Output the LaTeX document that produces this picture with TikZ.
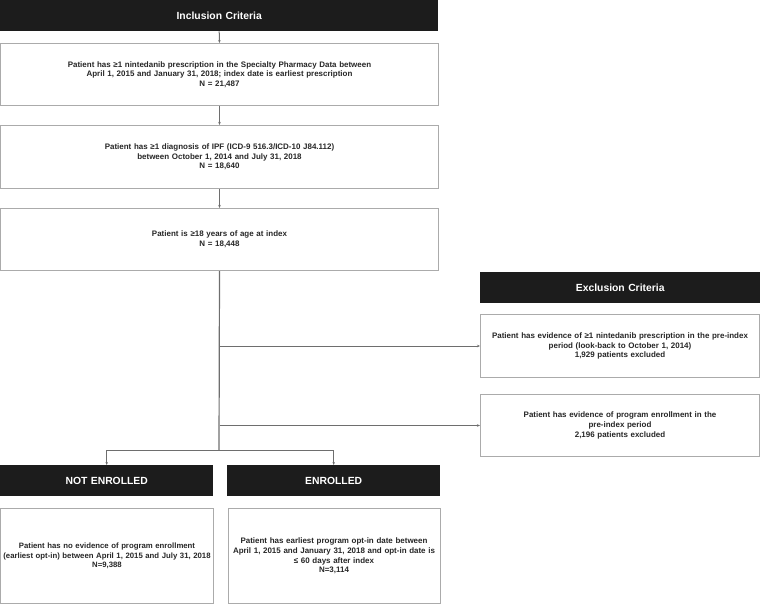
\documentclass[tikz,border=0pt]{standalone}
\usepackage{fontspec}
\setmainfont{Liberation Sans}
\usetikzlibrary{arrows.meta}
\definecolor{boxgray}{HTML}{ABABAB}
\definecolor{linegray}{HTML}{6E6E6E}
\definecolor{headblack}{HTML}{1C1C1C}
\definecolor{textgray}{HTML}{262626}
\tikzset{
    headbox/.style={fill=headblack, text=white, anchor=north west, inner sep=0pt,
        align=center, font=\bfseries\fontsize{10.4}{12}\selectfont},
    stepbox/.style={draw=boxgray, line width=1bp, anchor=north west, inner sep=0pt,
        align=center, text=textgray, font=\bfseries\fontsize{8}{9.6}\selectfont},
    conn/.style={draw=linegray, line width=1bp, -{Stealth[length=3bp,width=2.5bp]}},
    trunk/.style={draw=linegray, line width=1.2bp}
}
\begin{document}
\begin{tikzpicture}[x=1bp, y=-1bp]
        \useasboundingbox (0,0) rectangle (760,605);
        \node[headbox, text width=438bp, minimum height=31bp] (inclhead) at (0,0) {Inclusion Criteria};
        \node[stepbox, text width=438bp, minimum height=62bp] (elig1) at (0,43)
        {Patient has ≥1 nintedanib prescription in the Specialty Pharmacy Data between\\
        April 1, 2015 and January 31, 2018; index date is earliest prescription\\ N = 21,487};
        \node[stepbox, text width=438bp, minimum height=63bp] (elig2) at (0,125)
        {Patient has ≥1 diagnosis of IPF (ICD-9 516.3/ICD-10 J84.112)\\
        between October 1, 2014 and July 31, 2018\\ N = 18,640};
        \node[stepbox, text width=438bp, minimum height=62bp] (elig3) at (0,208)
        {Patient is ≥18 years of age at index\\ N = 18,448};
        \node[headbox, text width=280bp, minimum height=31bp] (exclhead) at (480,272) {Exclusion Criteria};
        \node[stepbox, text width=279bp, minimum height=63bp] (excl1) at (480,314)
        {Patient has evidence of ≥1 nintedanib prescription in the pre-index\\
        period (look-back to October 1, 2014)\\ 1,929 patients excluded};
        \node[stepbox, text width=279bp, minimum height=62bp] (excl2) at (480,394)
        {Patient has evidence of program enrollment in the\\ pre-index period\\
        2,196 patients excluded};
        \node[headbox, text width=213bp, minimum height=31bp] (nothead) at (0,465) {NOT ENROLLED};
        \node[headbox, text width=213bp, minimum height=31bp] (enrhead) at (227,465) {ENROLLED};
        \node[stepbox, text width=212bp, minimum height=95bp, font=\bfseries\fontsize{7.8}{9.6}\selectfont]
        (notbox) at (0.5,508)
        {Patient has no evidence of program enrollment\\
        \makebox[212bp][c]{(earliest opt-in) between April 1, 2015 and July 31, 2018}\\ N=9,388};
        \node[stepbox, text width=212bp, minimum height=95bp] (enrbox) at (227.5,508)
        {Patient has earliest program opt-in date between\\
        April 1, 2015 and January 31, 2018 and opt-in date is\\ ≤ 60 days after index\\ N=3,114};
        \coordinate (fork) at (219,450);
        \draw[conn] (inclhead.south) -- (elig1.north);
        \draw[conn] (elig1.south) -- (elig2.north);
        \draw[conn] (elig2.south) -- (elig3.north);
        \draw[trunk] (elig3.south) -- (fork);
        \draw[conn] (elig3.south |- excl1.west) -- (excl1.west);
        \draw[conn] (elig3.south |- excl2.west) -- (excl2.west);
        \draw[conn] (fork) -| (nothead.north);
        \draw[conn] (fork) -| (enrhead.north);
\end{tikzpicture}
\end{document}
